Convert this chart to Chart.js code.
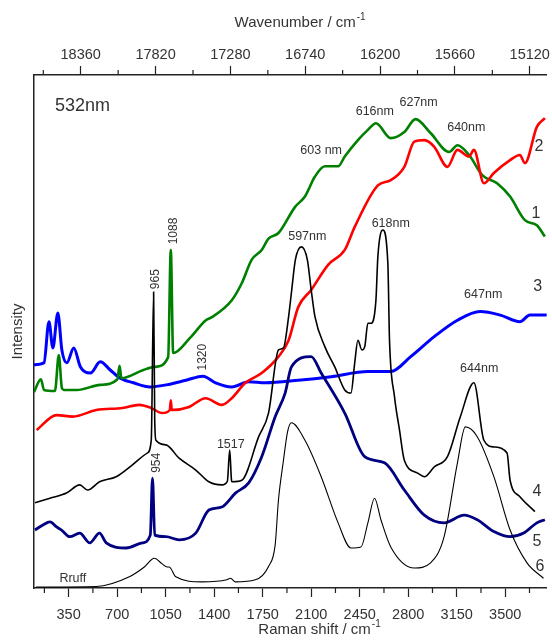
<!DOCTYPE html>
<html>
<head>
<meta charset="utf-8">
<title>Raman 532nm</title>
<script src="https://cdn.jsdelivr.net/npm/chart.js@4/dist/chart.umd.min.js"></script>
<style>
  html, body { margin: 0; padding: 0; background: #fff; }
  canvas { display: block; }
</style>
</head>
<body>
<canvas id="chart" width="552" height="642"></canvas>
<script>
// Laser line 532 nm -> absolute wavenumber (cm-1)
const LASER = 18797;

// Axis ticks
const shiftTicks = [350, 700, 1050, 1400, 1750, 2100, 2450, 2800, 3150, 3500];
const shiftMinor = [175, 525, 875, 1225, 1575, 1925, 2275, 2625, 2975, 3325, 3675];
const wavenumberTicks = [18360, 17820, 17280, 16740, 16200, 15660, 15120];
const wavenumberMinor = [18630, 18090, 17550, 17010, 16470, 15930, 15390];

// Spectra: [Raman shift, intensity (arb.)]
const curve1 = [[100, 38.2], [150, 40.7], [172, 38.6], [251, 38.4], [279, 45.4], [301, 39.0], [315, 38.6],
  [408, 38.6], [578, 39.6], [702, 40.7], [717, 43.3], [731, 40.9], [889, 42.5], [973, 43.1], [1068, 45.0],
  [1087, 65.9], [1104, 45.8], [1224, 48.7], [1340, 52.2], [1384, 52.8], [1527, 56.1], [1599, 59.4],
  [1671, 64.0], [1743, 65.9], [1792, 68.1], [1864, 69.2], [1984, 74.3], [2055, 76.3], [2127, 80.2],
  [2199, 82.2], [2294, 82.2], [2342, 84.1], [2437, 87.3], [2509, 89.3], [2567, 90.6], [2674, 87.7],
  [2772, 88.9], [2853, 91.4], [2961, 88.7], [3095, 85.0], [3155, 86.3], [3239, 84.4], [3334, 80.5],
  [3441, 78.9], [3535, 76.3], [3642, 71.7], [3728, 70.7], [3786, 68.5]];

const curve2 = [[119, 30.8], [263, 33.7], [380, 33.4], [550, 34.7], [738, 35.1], [860, 35.7], [944, 35.1],
  [1025, 34.1], [1080, 34.7], [1087, 36.6], [1094, 34.7], [1219, 35.3], [1338, 37.0], [1455, 35.7],
  [1527, 37.0], [1625, 40.0], [1743, 41.9], [1864, 45.1], [1937, 48.3], [2007, 54.8], [2100, 58.1],
  [2222, 63.0], [2342, 65.9], [2414, 70.4], [2581, 78.5], [2674, 79.5], [2772, 82.1], [2844, 87.0],
  [2916, 87.3], [2988, 86.0], [3083, 82.1], [3155, 85.4], [3239, 84.1], [3274, 85.4], [3346, 78.9],
  [3418, 80.9], [3535, 83.4], [3606, 84.4], [3642, 82.8], [3728, 89.9], [3786, 91.6]];

const curve3 = [[100, 43.5], [172, 43.9], [208, 51.9], [236, 46.8], [272, 53.6], [301, 46.4], [337, 43.9],
  [387, 46.8], [435, 43.1], [507, 41.9], [578, 44.1], [650, 42.5], [722, 40.9], [817, 40.0], [937, 39.2],
  [1054, 39.6], [1197, 40.5], [1319, 41.3], [1410, 40.0], [1527, 39.2], [1649, 40.2], [1769, 40.0],
  [2007, 40.5], [2244, 41.2], [2509, 42.2], [2674, 42.2], [2818, 45.1], [2988, 49.0], [3155, 52.2],
  [3319, 53.9], [3465, 53.2], [3606, 51.9], [3678, 53.2], [3800, 53.2]];

const curve4 = [[107, 16.6], [215, 17.5], [334, 18.5], [430, 20.1], [487, 19.1], [573, 20.7], [693, 21.7],
  [810, 24.0], [917, 26.3], [946, 28.8], [963, 57.7], [971, 32.7], [980, 28.8], [1052, 27.9], [1147, 25.3],
  [1267, 23.0], [1362, 20.7], [1455, 20.1], [1495, 20.8], [1512, 26.9], [1525, 21.0], [1530, 20.7],
  [1599, 21.0], [1721, 29.5], [1792, 34.1], [1864, 46.4], [1900, 46.8], [1937, 52.9], [1957, 57.5],
  [1986, 64.0], [2029, 66.5], [2072, 64.0], [2100, 58.1], [2127, 52.9], [2199, 47.0], [2270, 43.1],
  [2342, 38.6], [2387, 38.0], [2414, 43.9], [2437, 48.3], [2466, 46.4], [2486, 47.0], [2509, 51.6],
  [2531, 51.6], [2567, 56.1], [2581, 64.6], [2617, 69.8], [2653, 63.3], [2665, 48.3], [2701, 37.3],
  [2737, 30.8], [2772, 24.9], [2868, 22.4], [2916, 21.7], [2988, 23.6], [3083, 25.6], [3176, 33.4],
  [3274, 40.0], [3346, 28.8], [3418, 27.5], [3513, 26.3], [3535, 21.0], [3606, 17.8], [3714, 14.9]];

const curve5 = [[107, 11.3], [165, 12.3], [215, 12.9], [263, 11.9], [299, 11.3], [358, 10.0], [430, 10.7],
  [502, 8.8], [573, 10.7], [621, 8.8], [765, 7.8], [882, 8.8], [939, 10.3], [955, 21.4], [971, 10.3],
  [1052, 10.0], [1147, 9.4], [1267, 10.7], [1362, 15.2], [1455, 15.8], [1553, 18.5], [1649, 20.5],
  [1743, 25.6], [1840, 33.4], [1912, 38.0], [1957, 43.1], [2100, 45.1], [2172, 41.9], [2342, 34.1],
  [2486, 25.6], [2629, 24.4], [2772, 19.1], [2916, 14.2], [3059, 12.7], [3203, 14.2], [3298, 13.3],
  [3418, 11.0], [3535, 10.0], [3633, 10.7], [3728, 12.7], [3786, 13.3]];

const curve6 = [[114, 0.2], [550, 0.3], [788, 2.2], [896, 4.1], [968, 5.8], [1025, 4.7], [1061, 4.1],
  [1075, 4.1], [1123, 2.2], [1312, 1.2], [1491, 1.6], [1518, 1.9], [1553, 1.2], [1697, 1.6], [1792, 4.2],
  [1840, 8.4], [1864, 17.2], [1900, 24.9], [1929, 30.4], [1957, 32.2], [2055, 28.8], [2172, 21.7],
  [2294, 12.7], [2387, 7.8], [2459, 8.0], [2509, 12.7], [2557, 17.5], [2603, 13.3], [2674, 8.0],
  [2844, 3.9], [2961, 4.9], [3059, 10.0], [3155, 24.4], [3212, 31.4], [3298, 29.5], [3418, 21.7],
  [3535, 11.3], [3657, 4.9], [3776, 1.9]];

// Text in the plot, placed in data units
const laserLabel = { text: "532nm", x: 251, y: 94 };
const peakLabels = [
  { text: "603 nm", x: 2172, y: 85.2 },
  { text: "616nm", x: 2559, y: 92.8 },
  { text: "627nm", x: 2875, y: 94.7 },
  { text: "640nm", x: 3219, y: 89.8 },
  { text: "597nm", x: 2072, y: 68.6 },
  { text: "618nm", x: 2674, y: 71.1 },
  { text: "647nm", x: 3341, y: 57.3 },
  { text: "644nm", x: 3312, y: 42.7 },
  { text: "1517", x: 1520, y: 27.9 },
  { text: "Rruff", x: 380, y: 1.9 },
];
const bandLabels = [
  { text: "965", x: 975, y: 60.2 },
  { text: "1088", x: 1111, y: 69.6 },
  { text: "1320", x: 1319, y: 45.0 },
  { text: "954", x: 982, y: 24.4 },
];
const curveNumbers = [
  { text: "1", x: 3721, y: 72.9 },
  { text: "2", x: 3743, y: 86.1 },
  { text: "3", x: 3735, y: 58.7 },
  { text: "4", x: 3728, y: 18.7 },
  { text: "5", x: 3728, y: 9.0 },
  { text: "6", x: 3750, y: 4.1 },
];

const FONT = "'Liberation Sans', Arial, sans-serif";
const INK = "#222";
const TEXT = "#333";

const toXY = (arr) => arr.map(([x, y]) => ({ x, y }));

/**
 * Axis title with a small raised "-1"
 */
function drawUnitTitle(ctx, text, cx, cy) {
  ctx.font = "15px " + FONT;
  const w1 = ctx.measureText(text).width;
  ctx.font = "10px " + FONT;
  const w2 = ctx.measureText("-1").width;
  const left = cx - (w1 + w2 + 1) / 2;
  ctx.textAlign = "left";
  ctx.textBaseline = "middle";
  ctx.font = "15px " + FONT;
  ctx.fillText(text, left, cy);
  ctx.font = "10px " + FONT;
  ctx.fillText("-1", left + w1 + 1, cy - 6);
}

/**
 * Minor ticks, axis titles and the text drawn inside the plot
 */
const decorations = {
  id: "decorations",
  afterDraw(chart) {
    const { ctx } = chart;
    const { x, x2, y } = chart.scales;

    ctx.save();
    ctx.strokeStyle = INK;
    ctx.lineWidth = 1.2;
    ctx.beginPath();
    shiftMinor.forEach((v) => {
      const px = x.getPixelForValue(v);
      ctx.moveTo(px, x.top);
      ctx.lineTo(px, x.top + 5);
    });
    wavenumberMinor.forEach((w) => {
      const px = x2.getPixelForValue(LASER - w);
      ctx.moveTo(px, x2.bottom);
      ctx.lineTo(px, x2.bottom - 5);
    });
    ctx.stroke();

    ctx.fillStyle = TEXT;
    drawUnitTitle(ctx, "Wavenumber / cm", x2.getPixelForValue(2020), x2.top + 23);
    drawUnitTitle(ctx, "Raman shift / cm", x.getPixelForValue(2160), x.bottom - 12);

    ctx.textAlign = "center";
    ctx.textBaseline = "middle";
    const put = (l, size, rotate) => {
      ctx.save();
      ctx.font = size + "px " + FONT;
      ctx.translate(x.getPixelForValue(l.x), y.getPixelForValue(l.y));
      if (rotate) ctx.rotate(-Math.PI / 2);
      ctx.fillText(l.text, 0, 0);
      ctx.restore();
    };

    ctx.save();
    ctx.textAlign = "left";
    ctx.font = "18px " + FONT;
    ctx.fillText(laserLabel.text, x.getPixelForValue(laserLabel.x), y.getPixelForValue(laserLabel.y));
    ctx.restore();

    peakLabels.forEach((l) => put(l, 12.5, false));
    bandLabels.forEach((l) => put(l, 12, true));
    curveNumbers.forEach((l) => put(l, 16, false));
    ctx.restore();
  },
};

function initRamanChart() {
  const ctx = document.getElementById("chart").getContext("2d");

  const line = (data, color, width) => ({
    data: toXY(data),
    borderColor: color,
    backgroundColor: color,
    borderWidth: width,
    pointRadius: 0,
    fill: false,
    cubicInterpolationMode: "monotone",
  });

  const tickFont = { family: FONT, size: 14.5 };
  const titleFont = { family: FONT, size: 15 };

  new Chart(ctx, {
    type: "line",
    data: {
      datasets: [
        line(curve6, "#000000", 1.1),
        line(curve5, "#000080", 2.8),
        line(curve4, "#000000", 1.6),
        line(curve2, "#ff0000", 2.6),
        line(curve1, "#008000", 2.6),
        line(curve3, "#0000ff", 3),
      ],
    },
    options: {
      responsive: false,
      animation: false,
      devicePixelRatio: 1,
      layout: { padding: { right: 2 } },
      plugins: {
        legend: { display: false },
        tooltip: { enabled: false },
      },
      scales: {
        x: {
          type: "linear",
          position: "bottom",
          min: 100,
          max: 3800,
          afterBuildTicks: (s) => { s.ticks = shiftTicks.map((v) => ({ value: v })); },
          afterFit: (s) => { s.height = 54; },
          ticks: {
            font: tickFont,
            color: TEXT,
            padding: 9,
            maxRotation: 0,
            autoSkip: false,
            callback: (value) => String(value),
          },
          grid: { drawOnChartArea: false, drawTicks: true, tickLength: 9, tickColor: INK, tickWidth: 1.2 },
          border: { display: true, color: INK, width: 1.5 },
        },
        x2: {
          type: "linear",
          position: "top",
          min: 100,
          max: 3800,
          afterBuildTicks: (s) => { s.ticks = wavenumberTicks.map((w) => ({ value: LASER - w })); },
          afterFit: (s) => { s.height = 75; },
          ticks: {
            font: tickFont,
            color: TEXT,
            padding: 2,
            maxRotation: 0,
            autoSkip: false,
            callback: (value) => String(Math.round(LASER - value)),
          },
          grid: { drawOnChartArea: false, drawTicks: true, tickLength: 9, tickColor: INK, tickWidth: 1.2 },
          border: { display: true, color: INK, width: 1.5 },
        },
        y: {
          min: 0,
          max: 100,
          position: "left",
          afterFit: (s) => { s.width = 34; },
          ticks: { display: false },
          grid: { drawOnChartArea: false, drawTicks: false },
          border: { display: true, color: INK, width: 1.5 },
          title: { display: true, text: "Intensity", font: titleFont, color: TEXT, padding: { top: 9, bottom: 0 } },
        },
      },
    },
    plugins: [decorations],
  });
}

initRamanChart();
</script>
</body>
</html>
